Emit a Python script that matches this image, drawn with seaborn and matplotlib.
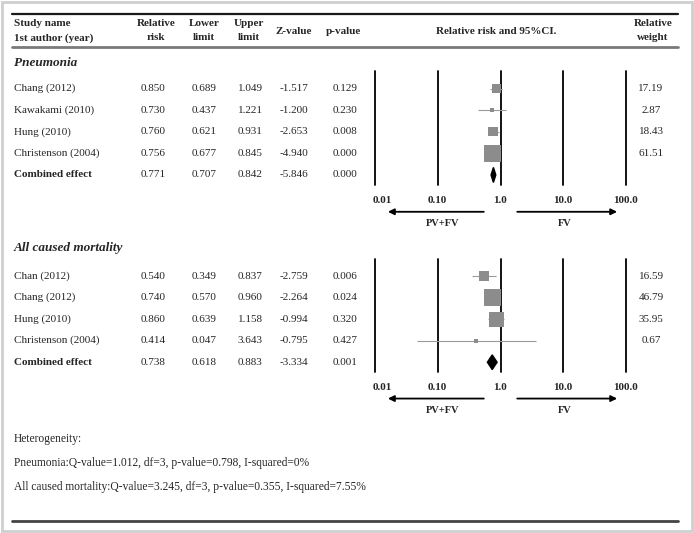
import numpy as np
import matplotlib
matplotlib.use('Agg')
import matplotlib.pyplot as plt
from matplotlib import transforms
from matplotlib.patches import Rectangle
import seaborn as sns

sns.set_style('white')
plt.rcParams['font.family'] = ['Liberation Serif', 'DejaVu Serif']

# ---- data ----
pn_studies = ['Chang (2012)', 'Kawakami (2010)', 'Hung (2010)', 'Christenson (2004)']
pn_rr = [0.850, 0.730, 0.760, 0.756]
pn_lo = [0.689, 0.437, 0.621, 0.677]
pn_hi = [1.049, 1.221, 0.931, 0.845]
pn_z = [-1.517, -1.200, -2.653, -4.940]
pn_p = [0.129, 0.230, 0.008, 0.000]
pn_w = [17.19, 2.87, 18.43, 61.51]
pn_comb = [0.771, 0.707, 0.842, -5.846, 0.000]  # rr, lo, hi, z, p

mo_studies = ['Chan (2012)', 'Chang (2012)', 'Hung (2010)', 'Christenson (2004)']
mo_rr = [0.540, 0.740, 0.860, 0.414]
mo_lo = [0.349, 0.570, 0.639, 0.047]
mo_hi = [0.837, 0.960, 1.158, 3.643]
mo_z = [-2.759, -2.264, -0.994, -0.795]
mo_p = [0.006, 0.024, 0.320, 0.427]
mo_w = [16.59, 46.79, 35.95, 0.67]
mo_comb = [0.738, 0.618, 0.883, -3.334, 0.001]

ticks = [0.01, 0.1, 1, 10, 100]
tick_labels = ['0.01', '0.10', '1.0', '10.0', '100.0']

het_lines = ['Heterogeneity:',
             'Pneumonia:Q-value=1.012, df=3, p-value=0.798, I-squared=0%',
             'All caused mortality:Q-value=3.245, df=3, p-value=0.355, I-squared=7.55%']

W, H = 694, 533
fig = plt.figure(figsize=(W / 100, H / 100), dpi=100)

# overlay axes in pixel coordinates for table text and rules
bg = fig.add_axes([0, 0, 1, 1])
bg.set_xlim(0, W)
bg.set_ylim(H, 0)
bg.axis('off')
bg.patch.set_alpha(0)

fig.patches.append(Rectangle((0.003, 0.004), 0.994, 0.992, transform=fig.transFigure,
                             fill=False, edgecolor='#cfcfcf', linewidth=2))

bg.plot([12, 678], [14, 14], color='#1a1a1a', lw=1.6)
bg.plot([12, 678], [47, 47], color='#7a7a7a', lw=2.0)
bg.plot([12, 678], [521, 521], color='#444444', lw=2.0)

fs = 8
hdr = dict(fontsize=fs, fontweight='bold', va='center')
bg.text(14, 24, 'Study name', ha='left', **hdr)
bg.text(14, 38, '1st author (year)', ha='left', **hdr)
col_x = [156, 204, 249, 294, 343]
for cx, h1, h2 in zip(col_x[:3], ['Relative', 'Lower', 'Upper'], ['risk', 'limit', 'limit']):
    bg.text(cx, 24, h1, ha='center', **hdr)
    bg.text(cx, 38, h2, ha='center', **hdr)
bg.text(col_x[3], 31, 'Z-value', ha='center', **hdr)
bg.text(col_x[4], 31, 'p-value', ha='center', **hdr)
bg.text(496, 31, 'Relative risk and 95%CI.', ha='center', **hdr)
bg.text(653, 24, 'Relative', ha='center', **hdr)
bg.text(653, 38, 'weight', ha='center', **hdr)

num_x = [153, 204, 250, 294, 345]
weight_x = 651


def panel(top, bottom, spacing, title, title_y, studies, rr, lo, hi, z, p, w, comb):
    x0, x1 = 375, 626
    ax = fig.add_axes([x0 / W, 1 - bottom / H, (x1 - x0) / W, (bottom - top) / H])
    ax.set_xscale('log')
    ax.set_xlim(0.01, 100)
    n = len(studies)
    first_off = 17.5 / spacing
    last_off = 10 / spacing
    ax.set_ylim(n + last_off, -first_off)
    ax.patch.set_alpha(0)
    for s in ax.spines.values():
        s.set_visible(False)
    ax.set_yticks([])
    ax.set_xticks(ticks, tick_labels, fontsize=fs, fontweight='bold')
    ax.minorticks_off()
    ax.tick_params(axis='x', length=0, pad=8)
    first = ax.get_xticklabels()[0]
    first.set_horizontalalignment('left')
    first.set_transform(first.get_transform() + transforms.ScaledTranslation(-2 / 100, 0, fig.dpi_scale_trans))
    for t in ticks:
        ax.axvline(t, color='black', lw=1.3, zorder=1, clip_on=False)

    rows = np.arange(n)
    # CI whiskers
    ax.hlines(rows, lo, hi, color='#9a9a9a', lw=0.8, zorder=2)
    # boxes sized by weight
    side = np.maximum(17 * np.sqrt(np.array(w) / max(w)), 4)
    sns.scatterplot(x=rr, y=rows, s=(side * 0.72) ** 2, marker='s', color='#8c8c8c',
                    linewidth=0, ax=ax, zorder=3, legend=False)
    # combined diamond
    half = 7.5 / spacing
    ax.fill([comb[1], comb[0], comb[2], comb[0]], [n, n - half, n, n + half],
            color='black', zorder=4)

    # arrows and direction labels
    ax.annotate('', xy=(0.0145, -0.235), xytext=(0.6, -0.235),
                xycoords=('data', 'axes fraction'),
                arrowprops=dict(arrowstyle='-|>', color='black', lw=1.3, mutation_scale=9))
    ax.annotate('', xy=(80, -0.235), xytext=(1.67, -0.235),
                xycoords=('data', 'axes fraction'),
                arrowprops=dict(arrowstyle='-|>', color='black', lw=1.3, mutation_scale=9))
    ax.text(0.12, -0.34, 'PV+FV', transform=ax.get_xaxis_transform(), ha='center',
            va='center', fontsize=7.5, fontweight='bold')
    ax.text(10.5, -0.34, 'FV', transform=ax.get_xaxis_transform(), ha='center',
            va='center', fontsize=7.5, fontweight='bold')

    # table text aligned to panel rows
    tr = transforms.blended_transform_factory(bg.transData, ax.transData)
    bg.text(14, title_y, title, ha='left', va='center', fontsize=9.5,
            fontweight='bold', style='italic')
    for i in range(n):
        bg.text(14, i, studies[i], transform=tr, ha='left', va='center', fontsize=fs)
        vals = ['%.3f' % rr[i], '%.3f' % lo[i], '%.3f' % hi[i], '%.3f' % z[i], '%.3f' % p[i]]
        for cx, v in zip(num_x, vals):
            bg.text(cx, i, v, transform=tr, ha='center', va='center', fontsize=fs)
        bg.text(weight_x, i, '%.2f' % w[i], transform=tr, ha='center', va='center', fontsize=fs)
    bg.text(14, n, 'Combined effect', transform=tr, ha='left', va='center',
            fontsize=fs, fontweight='bold')
    for cx, v in zip(num_x, comb):
        bg.text(cx, n, '%.3f' % v, transform=tr, ha='center', va='center', fontsize=fs)
    return ax


panel(71, 185, 21.5, 'Pneumonia', 63, pn_studies, pn_rr, pn_lo, pn_hi, pn_z, pn_p, pn_w, pn_comb)
panel(259, 372, 22, 'All caused mortality', 248, mo_studies, mo_rr, mo_lo, mo_hi, mo_z, mo_p, mo_w, mo_comb)

for y, line in zip([439, 463, 487], het_lines):
    bg.text(14, y, line, ha='left', va='center', fontsize=8.3)

fig.savefig('out.png', dpi=100)
